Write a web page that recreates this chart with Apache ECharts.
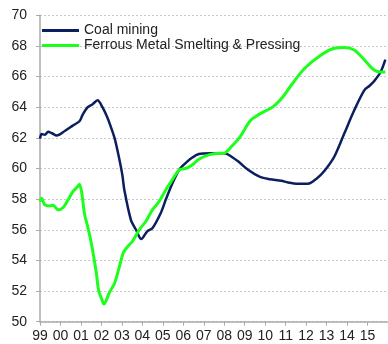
<!DOCTYPE html>
<html>
<head>
<meta charset="utf-8">
<script src="https://cdn.jsdelivr.net/npm/echarts@6/dist/echarts.min.js"></script>
<style>
  html, body { margin: 0; padding: 0; background: #fff; }
  #chart { width: 388px; height: 344px; }
</style>
</head>
<body>
<div id="chart"></div>
<script>
// Two-digit year labels for the x axis (1999 .. 2015)
const yearLabels = ['99','00','01','02','03','04','05','06','07','08','09','10','11','12','13','14','15'];

// Coal mining: decimal year and index value
const coalYears = [
  1999.00, 1999.08, 1999.24, 1999.40, 1999.58, 1999.82, 2000.21, 2000.60, 2000.94, 2001.08,
  2001.33, 2001.57, 2001.81, 2002.05, 2002.30, 2002.44, 2002.64, 2002.83, 2003.02, 2003.12,
  2003.44, 2003.69, 2003.94, 2004.24, 2004.49, 2004.90, 2005.14, 2005.46, 2005.79, 2006.11,
  2006.42, 2006.76, 2007.30, 2007.97, 2008.21, 2008.69, 2009.18, 2009.75, 2010.23, 2010.79,
  2011.12, 2011.60, 2012.09, 2012.33, 2012.73, 2013.06, 2013.38, 2013.87, 2014.35, 2014.84,
  2015.10, 2015.32, 2015.64, 2015.87
];
const coalValues = [
  61.95, 62.25, 62.2, 62.4, 62.3, 62.15, 62.45, 62.8, 63.1, 63.5,
  64.0, 64.2, 64.45, 64.0, 63.3, 62.8, 62.0, 60.9, 59.6, 58.6,
  56.65, 56.0, 55.4, 55.9, 56.1, 57.1, 57.95, 59.0, 59.9, 60.35,
  60.7, 60.95, 61.0, 61.0, 60.9, 60.45, 59.9, 59.45, 59.3, 59.2,
  59.08, 59.0, 59.0, 59.15, 59.6, 60.13, 60.78, 62.3, 63.8, 65.1,
  65.4, 65.7, 66.3, 67.1
];

// Ferrous metal smelting & pressing: decimal year and index value
const ferrousYears = [
  1999.00, 1999.08, 1999.24, 1999.48, 1999.64, 1999.89, 2000.13, 2000.37, 2000.61, 2000.86,
  2000.93, 2001.04, 2001.18, 2001.33, 2001.51, 2001.75, 2001.87, 2002.01, 2002.12, 2002.39,
  2002.64, 2002.84, 2003.07, 2003.28, 2003.52, 2003.85, 2004.17, 2004.49, 2004.82, 2005.14,
  2005.46, 2005.79, 2006.11, 2006.43, 2006.76, 2007.24, 2007.73, 2007.97, 2008.37, 2008.78,
  2009.26, 2009.66, 2010.39, 2010.88, 2011.28, 2011.93, 2012.73, 2013.38, 2013.87, 2014.35,
  2014.84, 2015.32, 2015.64, 2015.87
];
const ferrousValues = [
  57.85, 58.05, 57.62, 57.56, 57.6, 57.3, 57.45, 57.95, 58.5, 58.85,
  58.97, 58.4, 57.0, 56.2, 55.1, 53.2, 52.0, 51.5, 51.15, 51.9,
  52.5, 53.4, 54.5, 54.9, 55.25, 56.0, 56.55, 57.3, 57.85, 58.6,
  59.25, 59.9, 60.0, 60.23, 60.6, 60.89, 61.0, 61.0, 61.45, 62.08,
  63.1, 63.5, 64.04, 64.7, 65.45, 66.54, 67.41, 67.85, 67.9, 67.74,
  67.1, 66.43, 66.3, 66.3
];

const zip = (xs, ys) => xs.map((x, i) => [x, ys[i]]);

const chart = echarts.init(document.getElementById('chart'), null, { renderer: 'canvas' });
const textColor = '#222';
const fontFamily = '"Liberation Sans", Arial, sans-serif';
const coalColor = '#0b1f5e';
const ferrousColor = '#1cff1c';

chart.setOption({
  animation: false,
  backgroundColor: '#fff',
  grid: { left: 40, right: -2.6, top: 15.3, bottom: 22.3, containLabel: false },
  legend: {
    orient: 'vertical',
    left: 37,
    top: 18,
    icon: 'rect',
    itemWidth: 37,
    itemHeight: 3,
    itemGap: 0,
    textStyle: { color: textColor, fontSize: 14, lineHeight: 15, fontFamily: fontFamily },
    data: [
      { name: 'Coal mining', itemStyle: { color: coalColor } },
      { name: 'Ferrous Metal Smelting & Pressing', itemStyle: { color: ferrousColor } }
    ]
  },
  xAxis: {
    type: 'value',
    min: 1999,
    max: 2016,
    interval: 1,
    axisLine: { show: true, lineStyle: { color: '#aaa', width: 1.5 } },
    axisTick: { show: true, length: 4, lineStyle: { color: '#aaa' } },
    splitLine: { show: false },
    axisLabel: {
      color: textColor, fontSize: 14, fontFamily: fontFamily, margin: 7,
      showMaxLabel: false,
      formatter: v => {
        const i = Math.round(v - 1999);
        return (Math.abs(v - Math.round(v)) < 1e-6 && yearLabels[i]) ? yearLabels[i] : '';
      }
    }
  },
  yAxis: {
    type: 'value',
    min: 50,
    max: 70,
    interval: 2,
    axisLine: { show: true, lineStyle: { color: '#aaa', width: 1.5 } },
    axisTick: { show: true, length: 4, lineStyle: { color: '#aaa' } },
    splitLine: { show: true, lineStyle: { color: '#c8c8c8', width: 1, type: [2, 2] } },
    axisLabel: { color: textColor, fontSize: 14, fontFamily: fontFamily, margin: 13 }
  },
  series: [
    {
      name: 'Coal mining',
      type: 'line',
      data: zip(coalYears, coalValues),
      showSymbol: false,
      symbol: 'none',
      smooth: 0.3,
      color: coalColor,
      lineStyle: { color: coalColor, width: 2.5 }
    },
    {
      name: 'Ferrous Metal Smelting & Pressing',
      type: 'line',
      data: zip(ferrousYears, ferrousValues),
      showSymbol: false,
      symbol: 'none',
      smooth: 0.3,
      color: ferrousColor,
      lineStyle: { color: ferrousColor, width: 3 }
    }
  ]
});
</script>
</body>
</html>
